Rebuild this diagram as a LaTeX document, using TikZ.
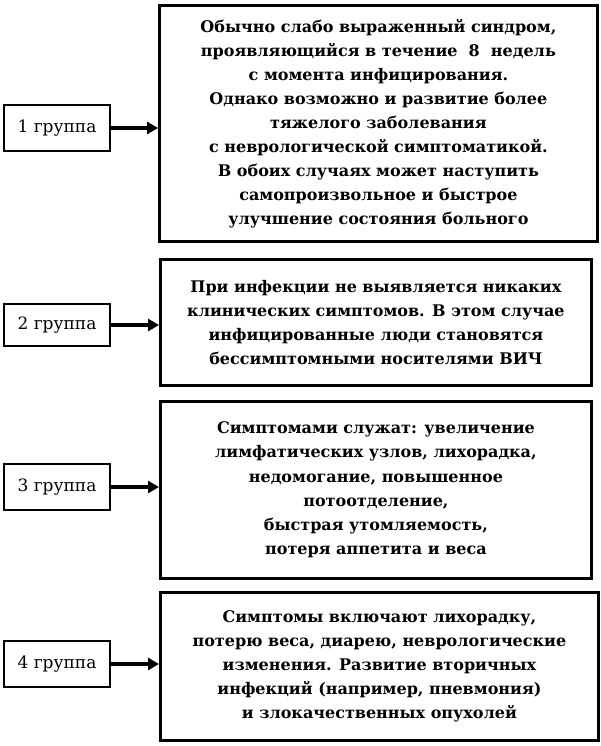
\documentclass[tikz,border=0pt]{standalone}
\usepackage{fontspec}
\setmainfont{DejaVu Serif}
\usetikzlibrary{arrows.meta}
\tikzset{
  rbox/.style={draw, line width=2.8pt, rectangle, anchor=north west, inner sep=0pt,
    align=center, font=\bfseries\fontsize{16}{24}\selectfont},
  lbox/.style={draw, line width=2.4pt, rectangle, minimum width=106pt, minimum height=46pt,
    inner sep=0pt, font=\fontsize{17}{19}\selectfont},
  conn/.style={line width=4.5pt, -{Triangle[length=11pt,width=12pt]}}
}
\begin{document}
\begin{tikzpicture}[x=1pt,y=-1pt]
\useasboundingbox (0,0) rectangle (601,746);
\node[rbox, minimum width=438pt, minimum height=236pt] (r1) at (158,4)
 {Обычно слабо выраженный синдром,\\
  проявляющийся в течение \ 8 \ недель\\
  с момента инфицирования.\\
  Однако возможно и развитие более\\
  тяжелого заболевания\\
  с неврологической симптоматикой.\\
  В обоих случаях может наступить\\
  самопроизвольное и быстрое\\
  улучшение состояния больного};
\node[rbox, minimum width=431pt, minimum height=126pt] (r2) at (159,258)
 {При инфекции не выявляется никаких\\
  клинических симптомов. В этом случае\\
  инфицированные люди становятся\\
  бессимптомными носителями ВИЧ};
\node[rbox, minimum width=431pt, minimum height=177pt, font=\bfseries\fontsize{16}{24.3}\selectfont] (r3) at (159,400)
 {Симптомами служат: увеличение\\
  лимфатических узлов, лихорадка,\\
  недомогание, повышенное\\
  потоотделение,\\
  быстрая утомляемость,\\
  потеря аппетита и веса};
\node[rbox, minimum width=438pt, minimum height=148pt] (r4) at (159,591)
 {Симптомы включают лихорадку,\\
  потерю веса, диарею, неврологические\\
  изменения. Развитие вторичных\\
  инфекций (например, пневмония)\\
  и злокачественных опухолей};
\node[lbox] (l1) at (57,128) {1 группа};
\node[lbox, minimum height=42pt] (l2) at (57,325) {2 группа};
\node[lbox] (l3) at (57,487) {3 группа};
\node[lbox] (l4) at (57,664) {4 группа};
\draw[conn] (l1.east) -- (l1.east -| r1.west);
\draw[conn] (l2.east) -- (l2.east -| r2.west);
\draw[conn] (l3.east) -- (l3.east -| r3.west);
\draw[conn] (l4.east) -- (l4.east -| r4.west);
\end{tikzpicture}
\end{document}
